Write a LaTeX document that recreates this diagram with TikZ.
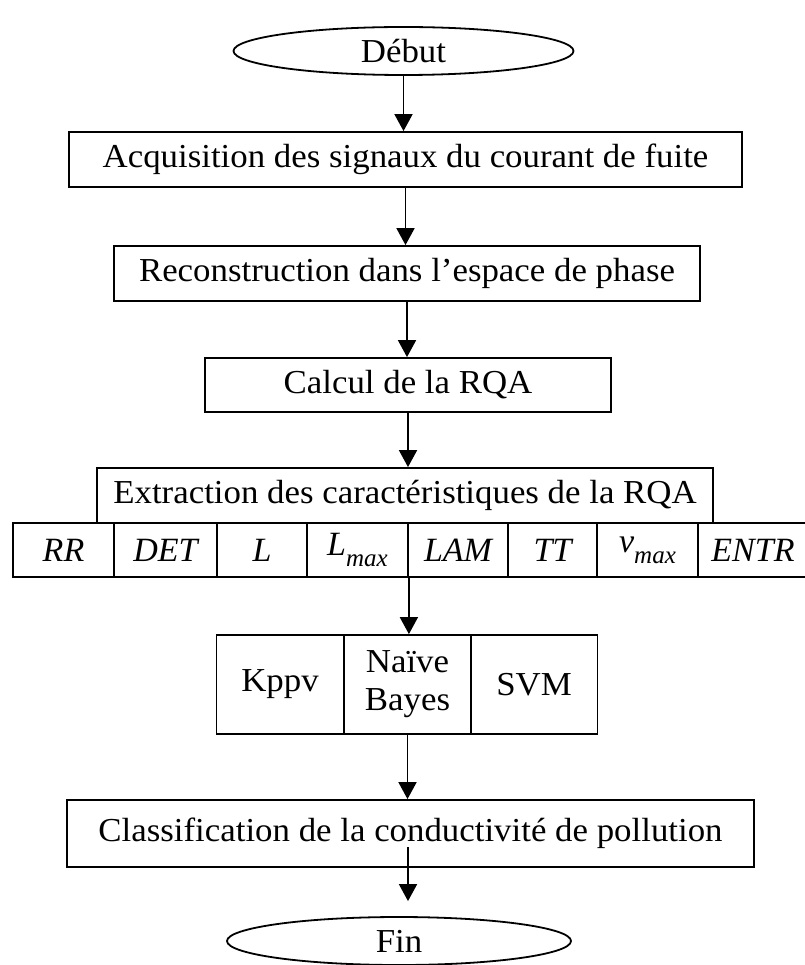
\RequirePackage{fix-cm}
\documentclass[tikz,border=0pt]{standalone}
\usepackage{fontspec}
\setmainfont[FakeStretch=1.04]{Liberation Serif}
\newfontfamily\formule{Liberation Serif}
\usetikzlibrary{shapes.geometric,arrows.meta}

% indice en italique pour les caracteristiques
\newcommand{\indice}[1]{\raisebox{-0.32em}{\fontsize{25}{25}\selectfont\formule\itshape #1}}

\begin{document}
\begin{tikzpicture}[
        x=1pt, y=-1pt,
        every node/.style={font=\fontsize{33.5}{38}\selectfont, inner sep=0pt},
        boite/.style={draw, line width=1.8pt},
        terminal/.style={draw, ellipse, line width=1.8pt, minimum width=340pt, minimum height=48pt},
        cellule/.style={draw, line width=1.8pt, minimum height=54pt, font=\fontsize{34}{38}\selectfont\formule\itshape},
        methode/.style={draw, line width=1.8pt, minimum height=99pt, minimum width=127pt, align=center},
        fleche/.style={-{Triangle[length=17pt,width=18pt]}, line width=1.8pt}
    ]
        \useasboundingbox (0,0) rectangle (804,965);

        % Debut et etapes de pretraitement
        \node[terminal] (debut) at (403.5,51) {Début};
        \node[boite, minimum width=673pt, minimum height=55pt] (acq) at (405.5,159.5)
            {Acquisition des signaux du courant de fuite};
        \node[boite, minimum width=586pt, minimum height=55pt] (recon) at (407,273.5)
            {Reconstruction dans l’espace de phase};
        \node[boite, minimum width=406pt, minimum height=54pt] (calcul) at (408,385)
            {Calcul de la RQA};
        \node[boite, minimum width=616pt, minimum height=55pt] (extr) at (405,495.5)
            {Extraction des caractéristiques de la RQA};

        % Ligne des caracteristiques
        \foreach \g/\d/\lab [count=\i] in {13/114/RR, 114/217/DET, 217/307/L,
                307/408/{L\indice{max}}, 408/508/LAM, 508/597/TT,
                597/698/{v\indice{max}}, 698/808/ENTR}
            \node[cellule, minimum width={(\d-\g)*1pt}] (c\i) at ({(\g+\d)/2},550) {\lab};

        % Classifieurs
        \node[methode] (kppv) at (280,684.5) {Kppv};
        \node[methode] (naive) at (407.5,684.5) {Naïve\\Bayes};
        \node[methode] (svm) at (534,684.5) {SVM};

        \node[boite, minimum width=687pt, minimum height=67pt] (classif) at (410.5,833.5)
            {Classification de la conductivité de pollution};
        \node[terminal, minimum width=344pt] (fin) at (399,941) {Fin};

        % Fleches
        \draw[fleche] (debut.south) -- (debut.south |- acq.north);
        \draw[fleche] (acq.south) -- (acq.south |- recon.north);
        \draw[fleche] (recon.south) -- (recon.south |- calcul.north);
        \draw[fleche] (calcul.south) -- (calcul.south |- extr.north);
        \draw[fleche] (c4.south east) -- (c4.south east |- naive.north);
        \draw[fleche] (naive.south) -- (naive.south |- classif.north);
        \coordinate (depart) at (408,847);
        \draw[fleche, shorten >=15pt] (depart) -- (depart |- fin.north);

    \end{tikzpicture}
\end{document}
